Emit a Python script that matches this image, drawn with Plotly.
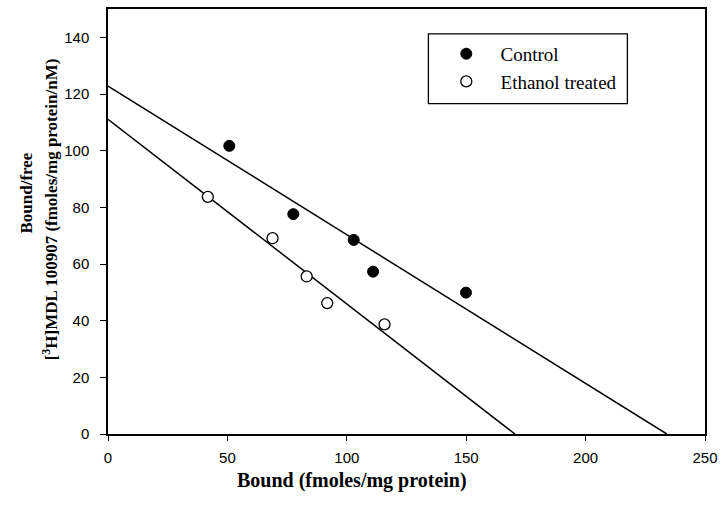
import plotly.graph_objects as go

# Data
control_x = [50.8, 77.6, 102.9, 111.0, 149.9]
control_y = [101.7, 77.6, 68.5, 57.3, 49.9]
ethanol_x = [41.8, 68.9, 83.2, 91.8, 115.8]
ethanol_y = [83.7, 69.1, 55.6, 46.2, 38.7]

# Regression line endpoints (y-intercept, x-intercept)
control_line_x = [0, 234.0]
control_line_y = [122.8, 0]
ethanol_line_x = [0, 170.4]
ethanol_line_y = [111.1, 0]

x_ticks = [0, 50, 100, 150, 200, 250]
y_ticks = [0, 20, 40, 60, 80, 100, 120, 140]

serif = "Liberation Serif, Times New Roman, serif"
sans = "Liberation Sans, Arial, sans-serif"
nb = "\u00a0\u00a0\u00a0"

fig = go.Figure()
fig.add_trace(go.Scatter(x=control_line_x, y=control_line_y, mode="lines",
                         line=dict(color="black", width=1.5), showlegend=False,
                         hoverinfo="skip"))
fig.add_trace(go.Scatter(x=ethanol_line_x, y=ethanol_line_y, mode="lines",
                         line=dict(color="black", width=1.5), showlegend=False,
                         hoverinfo="skip"))
fig.add_trace(go.Scatter(x=control_x, y=control_y, mode="markers", name=nb + "Control",
                         marker=dict(symbol="circle", size=11, color="black",
                                     line=dict(color="black", width=1))))
fig.add_trace(go.Scatter(x=ethanol_x, y=ethanol_y, mode="markers", name=nb + "Ethanol treated",
                         marker=dict(symbol="circle", size=11, color="white",
                                     line=dict(color="black", width=1.3))))

fig.update_layout(
    width=725, height=510,
    margin=dict(l=108, r=17, t=7, b=76),
    paper_bgcolor="white", plot_bgcolor="white",
    showlegend=True,
    legend=dict(x=(448 - 108) / 600, y=(434 - 33) / 427, xanchor="left", yanchor="top",
                borderwidth=0, bgcolor="rgba(0,0,0,0)",
                font=dict(family=serif, size=19, color="black"),
                itemwidth=30, tracegroupgap=0),
    shapes=[dict(type="rect", xref="paper", yref="paper",
                 x0=(430 - 108) / 600, x1=(630 - 108) / 600,
                 y0=(434 - 102) / 427, y1=(434 - 32) / 427,
                 line=dict(color="black", width=1.3), fillcolor="rgba(0,0,0,0)",
                 layer="above")],
    xaxis=dict(range=[0, 250], tickvals=x_ticks, ticks="outside", ticklen=5,
               tickcolor="black", tickwidth=1.3, showline=True, linecolor="black",
               linewidth=1.5, mirror=True, showgrid=False, zeroline=False,
               ticklabelstandoff=4,
               tickfont=dict(family=sans, size=15, color="black")),
    yaxis=dict(range=[0, 150], tickvals=y_ticks, ticks="outside", ticklen=6,
               tickcolor="black", tickwidth=1.3, showline=True, linecolor="black",
               linewidth=1.5, mirror=True, showgrid=False, zeroline=False,
               ticklabelstandoff=8,
               tickfont=dict(family=sans, size=15, color="black")),
    annotations=[
        dict(text="<b>Bound (fmoles/mg protein)</b>", xref="paper", yref="paper",
             x=(353 - 108) / 600, y=(434 - 481) / 427, xanchor="center",
             yanchor="middle", showarrow=False,
             font=dict(family=serif, size=20, color="black")),
        dict(text="<b>Bound/free</b>", xref="paper", yref="paper",
             x=(26 - 108) / 600, y=(434 - 192) / 427, xanchor="center",
             yanchor="middle", showarrow=False, textangle=-90,
             font=dict(family=serif, size=17, color="black")),
        dict(text="<b>[<sup>3</sup>H]MDL 100907 (fmoles/mg protein/nM)</b>",
             xref="paper", yref="paper", x=(50 - 108) / 600, y=(434 - 208) / 427,
             xanchor="center", yanchor="middle", showarrow=False, textangle=-90,
             font=dict(family=serif, size=17, color="black")),
    ],
)

fig.write_html("out.html")
